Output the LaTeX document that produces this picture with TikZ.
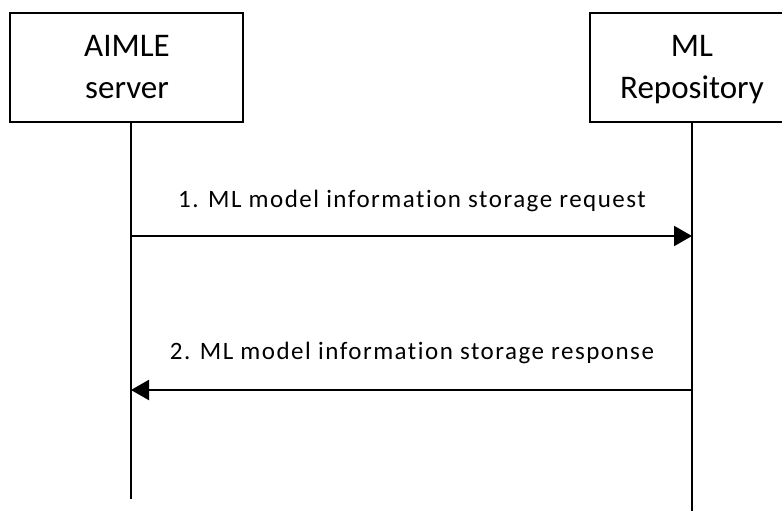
\documentclass[tikz,border=0pt]{standalone}
\usepackage{fontspec}
\setmainfont{Carlito}[Ligatures=NoCommon]
\newfontfamily\lblfont{Carlito}[Ligatures=NoCommon,LetterSpace=6]
\usetikzlibrary{arrows.meta}
\begin{document}
\begin{tikzpicture}[x=1pt,y=-1pt,
  ent/.style={draw,line width=2pt,inner sep=0pt},
  entlabel/.style={align=center,font=\fontsize{33}{42}\selectfont},
  life/.style={line width=2pt},
  msg/.style={line width=2pt,-{Triangle[length=18pt,width=20pt]}},
  msglabel/.style={font=\lblfont\fontsize{25}{30}\selectfont,anchor=base}]
\useasboundingbox (0,0) rectangle (782,511);
\node[ent,minimum width=233pt,minimum height=109pt] (aimle) at (126.5,67.5) {};
\node[entlabel,anchor=base] (aimleT) at (127,57) {AIMLE};
\node[entlabel,anchor=base] (aimleB) at (127,99) {server};
\node[ent,minimum width=204pt,minimum height=109pt] (repo) at (692,67.5) {};
\node[entlabel,anchor=base] (repoT) at (692,57) {ML};
\node[entlabel,anchor=base] (repoB) at (692,99) {Repository};
\coordinate (aimleEnd) at (131,499);
\coordinate (repoEnd) at (692,512);
\draw[life] (aimle.south -| aimleEnd) -- (aimleEnd);
\draw[life] (repo.south) -- (repoEnd);
\coordinate (a1) at (131,236);
\coordinate (b1) at (692,236);
\coordinate (a2) at (131,390);
\coordinate (b2) at (692,390);
\draw[msg] (a1) -- (b1);
\draw[msg] (b2) -- (a2);
\node[msglabel] (m1) at (412,207) {1. ML model information storage request};
\node[msglabel] (m2) at (412,359) {2. ML model information storage response};
\end{tikzpicture}
\end{document}
